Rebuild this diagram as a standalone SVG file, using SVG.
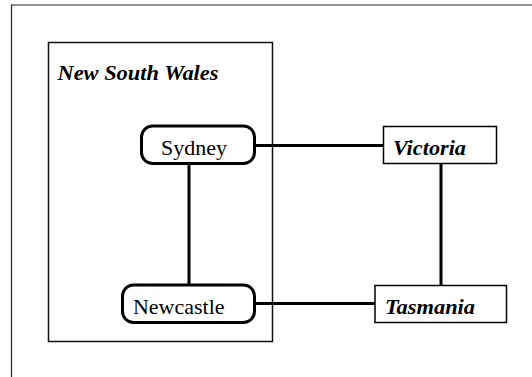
<svg xmlns="http://www.w3.org/2000/svg" width="532" height="377" viewBox="0 0 532 377">
<style>
.frame{fill:none;stroke:#222;stroke-width:1.2}
.group{fill:none;stroke:#111;stroke-width:1.5}
.city{fill:#fff;stroke:#000;stroke-width:3}
.state{fill:#fff;stroke:#000;stroke-width:1.5}
.conn{stroke:#000;stroke-width:3;fill:none}
text{font-family:"Liberation Serif","Times New Roman",Times,serif;font-size:22px;fill:#000}
.bi{font-weight:bold;font-style:italic}
</style>
<rect width="532" height="377" fill="#fff"/>
<path class="frame" d="M11.5,377 V5 H532"/>
<g id="nsw">
<rect class="group" x="48.5" y="42.5" width="224" height="299"/>
<text class="bi" x="57.5" y="80" textLength="161" lengthAdjust="spacingAndGlyphs">New South Wales</text>
</g>
<g id="connectors">
<line class="conn" x1="255" y1="145.5" x2="383.5" y2="145.5"/>
<line class="conn" x1="189" y1="164" x2="189" y2="285"/>
<line class="conn" x1="441" y1="164" x2="441" y2="285"/>
<line class="conn" x1="255" y1="303.5" x2="375" y2="303.5"/>
</g>
<g id="sydney">
<rect class="city" x="141.5" y="126" width="113" height="37.5" rx="11"/>
<text x="161" y="155" textLength="66" lengthAdjust="spacingAndGlyphs">Sydney</text>
</g>
<g id="newcastle">
<rect class="city" x="122.5" y="285" width="132" height="37.5" rx="11"/>
<text x="133" y="314" textLength="91.5" lengthAdjust="spacingAndGlyphs">Newcastle</text>
</g>
<g id="victoria">
<rect class="state" x="383.5" y="126.5" width="113" height="37"/>
<text class="bi" x="393" y="155" textLength="73" lengthAdjust="spacingAndGlyphs">Victoria</text>
</g>
<g id="tasmania">
<rect class="state" x="375" y="285.5" width="131.5" height="37"/>
<text class="bi" x="385" y="314" textLength="90" lengthAdjust="spacingAndGlyphs">Tasmania</text>
</g>
</svg>
